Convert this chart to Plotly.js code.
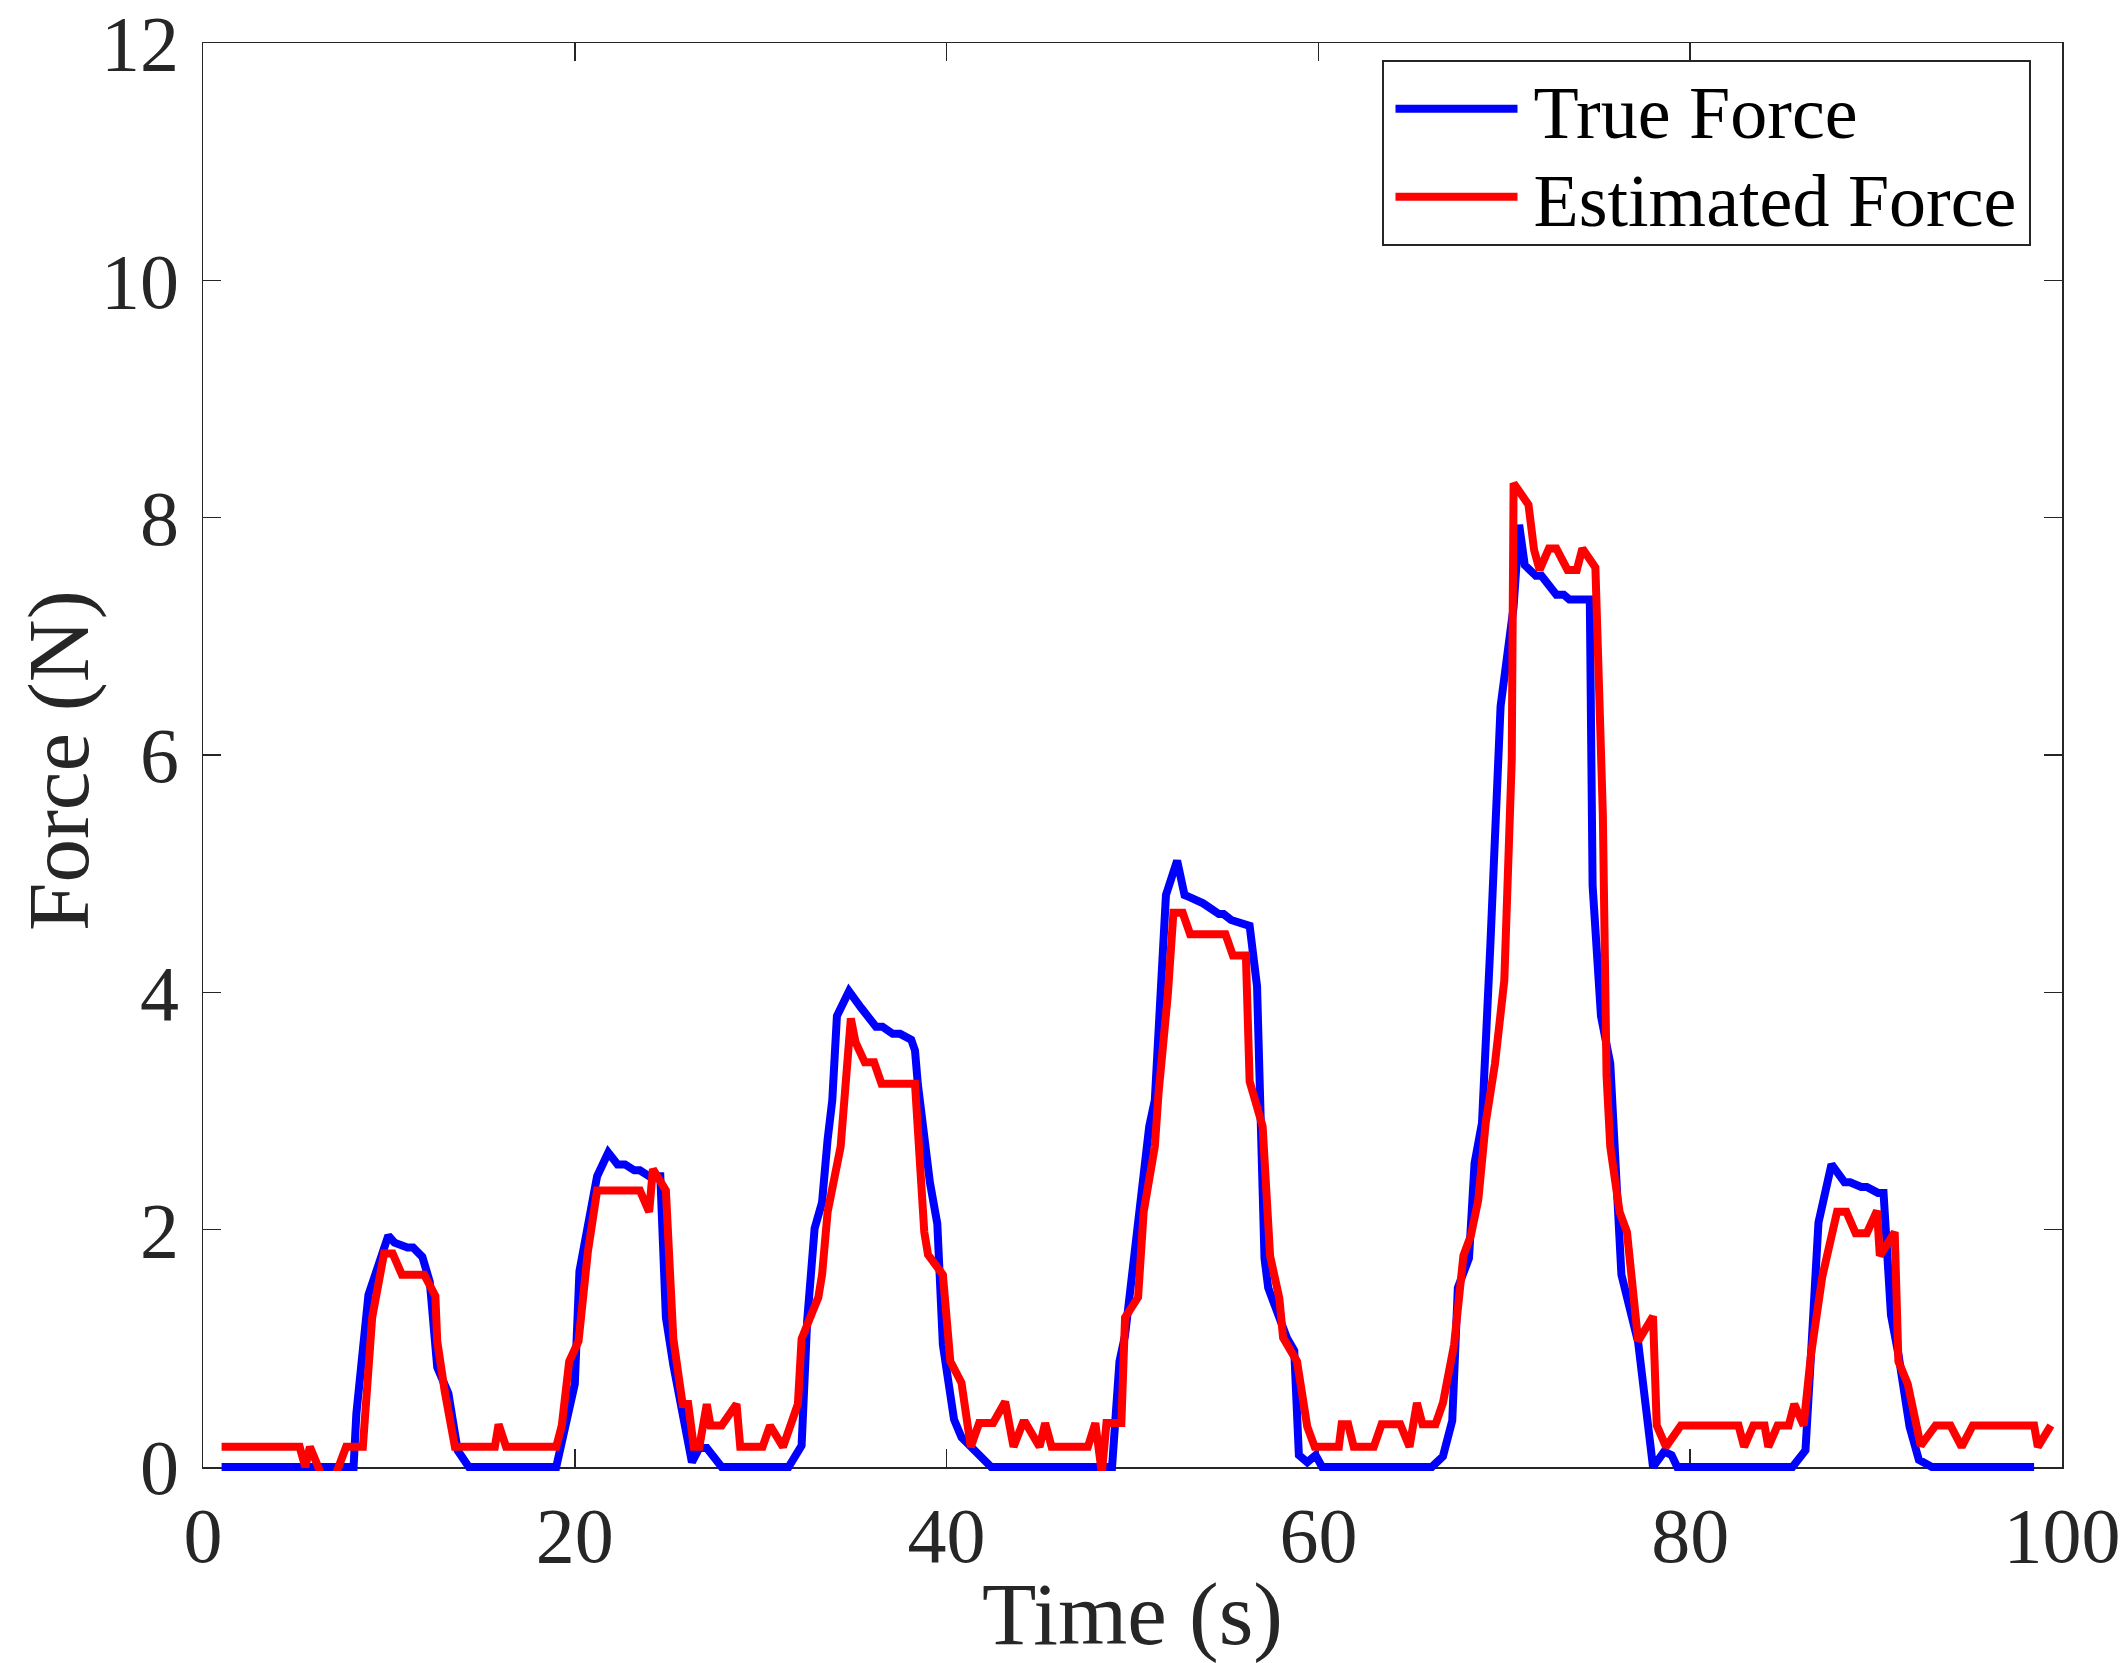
<!DOCTYPE html>
<html>
<head>
<meta charset="utf-8">
<script src="https://cdn.plot.ly/plotly-3.0.1.min.js"></script>
<style>
  html, body { margin: 0; padding: 0; background: #ffffff; }
  #chart { width: 2124px; height: 1663px; }
</style>
</head>
<body>
<div id="chart"></div>
<script>
// ---- data ----
const seriesNames = ["True Force", "Estimated Force"];

const trueTime = [
  1, 8.1, 8.25, 8.9, 9.97, 10.3, 11.0, 11.3, 11.8, 12.2,
  12.6, 13.2, 13.7, 14.3, 19.0, 20.0, 20.25, 20.55, 21.2, 21.8,
  22.3, 22.7, 23.2, 23.5, 24.0, 24.6, 24.9, 25.3, 25.9, 26.3,
  26.7, 27.1, 27.9, 31.5, 32.2, 32.5, 32.9, 33.3, 33.6, 33.85,
  34.1, 34.75, 35.4, 36.2, 36.55, 37.1, 37.5, 38.1, 38.3, 38.45,
  39.1, 39.5, 39.8, 40.4, 40.8, 41.5, 42.4, 48.9, 49.3, 49.6,
  50.2, 50.9, 51.2, 51.8, 52.4, 52.8, 53.1, 53.8, 54.65, 54.9,
  55.3, 55.6, 56.3, 56.7, 57.1, 57.3, 58.3, 58.7, 58.95, 59.4,
  59.85, 60.2, 66.1, 66.7, 67.2, 67.5, 68.1, 68.4, 68.8, 69.25,
  69.8, 70.5, 70.8, 71.1, 71.7, 72.0, 72.8, 73.2, 73.5, 74.6,
  74.75, 75.2, 75.7, 76.3, 77.2, 78.0, 78.6, 79.0, 79.3, 85.5,
  86.2, 86.5, 86.9, 87.6, 88.3, 88.6, 89.2, 89.5, 90.1, 90.4,
  90.8, 91.2, 91.8, 92.3, 92.5, 93.0, 98.5
];
const trueForce = [
  0, 0, 0.45, 1.45, 1.95, 1.89, 1.85, 1.85, 1.77, 1.56,
  0.84, 0.62, 0.14, 0, 0, 0.70, 1.65, 1.90, 2.45, 2.65,
  2.55, 2.55, 2.50, 2.50, 2.45, 2.45, 1.26, 0.86, 0.34, 0.04,
  0.16, 0.16, 0, 0, 0.18, 1.23, 2.01, 2.23, 2.76, 3.09,
  3.80, 4.01, 3.87, 3.71, 3.71, 3.65, 3.65, 3.60, 3.51, 3.23,
  2.40, 2.05, 1.03, 0.40, 0.25, 0.14, 0, 0, 0.89, 1.11,
  1.95, 2.87, 3.09, 4.82, 5.11, 4.82, 4.80, 4.75, 4.66, 4.66,
  4.61, 4.60, 4.56, 4.05, 1.76, 1.51, 1.09, 0.98, 0.10, 0.04,
  0.10, 0, 0, 0.09, 0.39, 1.51, 1.76, 2.56, 2.90, 4.40,
  6.41, 7.25, 7.94, 7.60, 7.51, 7.51, 7.35, 7.35, 7.31, 7.31,
  4.90, 3.80, 3.40, 1.62, 1.05, 0, 0.13, 0.10, 0, 0,
  0.14, 0.95, 2.06, 2.55, 2.40, 2.40, 2.36, 2.36, 2.31, 2.31,
  1.28, 0.95, 0.34, 0.06, 0.04, 0, 0
];

const estTime = [
  1.0, 5.2, 5.5, 5.75, 6.2, 6.4, 7.1, 7.7, 8.6, 9.1,
  9.74, 10.2, 10.7, 11.9, 12.5, 12.6, 13.0, 13.55, 15.7, 15.9,
  16.3, 19.0, 19.3, 19.7, 20.2, 20.7, 21.2, 23.5, 24.0, 24.2,
  24.9, 25.3, 25.8, 26.1, 26.4, 26.7, 27.1, 27.3, 27.9, 28.7,
  28.9, 30.1, 30.5, 31.2, 32.0, 32.2, 33.1, 33.3, 33.6, 34.3,
  34.85, 35.1, 35.6, 36.1, 36.5, 38.3, 38.8, 39.0, 39.8, 40.2,
  40.8, 41.3, 41.75, 42.5, 43.15, 43.6, 44.1, 44.25, 45.0, 45.3,
  45.65, 47.6, 48.0, 48.35, 48.6, 49.4, 49.6, 50.3, 50.6, 51.2,
  51.4, 51.9, 52.2, 52.7, 53.1, 55.0, 55.4, 56.1, 56.3, 57.0,
  57.4, 57.9, 58.1, 58.85, 59.4, 59.8, 61.1, 61.25, 61.6, 61.9,
  62.98, 63.4, 64.4, 64.9, 65.3, 65.6, 66.3, 66.7, 67.3, 67.8,
  68.2, 68.6, 69.0, 69.5, 70.0, 70.4, 70.5, 71.3, 71.6, 71.9,
  72.4, 72.8, 73.4, 73.9, 74.2, 74.9, 75.0, 75.3, 75.5, 75.7,
  76.2, 76.6, 77.2, 78.0, 78.2, 78.7, 79.5, 82.6, 82.9, 83.4,
  84.0, 84.2, 84.7, 85.3, 85.6, 86.1, 86.5, 87.1, 87.9, 88.4,
  88.9, 89.5, 90.05, 90.2, 91.0, 91.2, 91.7, 92.4, 93.2, 94.0,
  94.6, 95.2, 98.5, 98.7, 99.4
];
const estForce = [
  0.17, 0.17, 0.0, 0.17, 0.0, -0.08, -0.08, 0.17, 0.17, 1.26,
  1.80, 1.80, 1.62, 1.62, 1.44, 1.06, 0.64, 0.17, 0.17, 0.36,
  0.17, 0.17, 0.35, 0.89, 1.06, 1.81, 2.33, 2.33, 2.15, 2.51,
  2.33, 1.08, 0.53, 0.53, 0.17, 0.17, 0.53, 0.35, 0.35, 0.53,
  0.17, 0.17, 0.35, 0.17, 0.53, 1.08, 1.43, 1.62, 2.15, 2.70,
  3.78, 3.58, 3.41, 3.41, 3.23, 3.23, 1.98, 1.79, 1.62, 0.89,
  0.71, 0.17, 0.37, 0.37, 0.55, 0.17, 0.37, 0.37, 0.17, 0.37,
  0.17, 0.17, 0.37, -0.05, 0.37, 0.37, 1.26, 1.43, 2.15, 2.70,
  3.15, 3.98, 4.67, 4.67, 4.49, 4.49, 4.31, 4.31, 3.25, 2.87,
  1.78, 1.42, 1.09, 0.89, 0.34, 0.17, 0.17, 0.36, 0.36, 0.17,
  0.17, 0.36, 0.36, 0.17, 0.54, 0.36, 0.36, 0.54, 1.03, 1.78,
  1.95, 2.25, 2.90, 3.40, 4.10, 5.96, 8.29, 8.11, 7.73, 7.56,
  7.74, 7.74, 7.56, 7.56, 7.74, 7.58, 7.07, 5.50, 3.30, 2.70,
  2.15, 1.98, 1.06, 1.27, 0.35, 0.17, 0.35, 0.35, 0.17, 0.35,
  0.35, 0.17, 0.35, 0.35, 0.53, 0.35, 0.95, 1.60, 2.15, 2.15,
  1.97, 1.97, 2.16, 1.78, 1.98, 0.89, 0.70, 0.18, 0.35, 0.35,
  0.17, 0.35, 0.35, 0.17, 0.35
];

const xTickVals = [0, 20, 40, 60, 80, 100];
const yTickVals = [0, 2, 4, 6, 8, 10, 12];
const xTitle = "Time (s)";
const yTitle = "Force (N)";

// ---- styling ----
const FONT = "'Liberation Serif', 'Times New Roman', Times, serif";
const AXC = "#262626";

const traces = [
  { x: trueTime, y: trueForce, name: seriesNames[0], type: "scatter", mode: "lines",
    line: { color: "#0000ff", width: 8 } },
  { x: estTime, y: estForce, name: seriesNames[1], type: "scatter", mode: "lines",
    line: { color: "#ff0000", width: 8 } }
];

const axisCommon = {
  showgrid: false, zeroline: false,
  showline: true, linecolor: AXC, linewidth: 1.5, mirror: "ticks",
  ticks: "inside", ticklen: 18, tickwidth: 1.5, tickcolor: AXC,
  tickfont: { family: FONT, size: 78, color: AXC },
  ticklabeloverflow: "allow",
  layer: "below traces",
  automargin: false
};

const M = { l: 203, r: 62, t: 43, b: 196 };
const plotW = 2124 - M.l - M.r, plotH = 1663 - M.t - M.b;

const layout = {
  width: 2124, height: 1663,
  paper_bgcolor: "#ffffff", plot_bgcolor: "#ffffff",
  margin: M,
  showlegend: true,
  legend: {
    x: (1382 - M.l) / plotW, y: (1663 - M.b - 60) / plotH, xanchor: "left", yanchor: "top",
    bgcolor: "#ffffff", bordercolor: AXC, borderwidth: 1.5,
    font: { family: FONT, size: 74, color: "#000000" },
    itemwidth: 140, tracegroupgap: 0
  },
  xaxis: Object.assign({}, axisCommon, {
    range: [0, 100], tickvals: xTickVals, ticktext: xTickVals.map(String),
    title: { text: xTitle, font: { family: FONT, size: 89, color: AXC }, standoff: 10 }
  }),
  yaxis: Object.assign({}, axisCommon, {
    range: [0, 12], tickvals: yTickVals, ticktext: yTickVals.map(String),
    ticklabelstandoff: 7
  }),
  annotations: [{
    text: yTitle, textangle: -90, showarrow: false,
    xref: "paper", yref: "paper",
    x: (58 - M.l) / plotW, y: (1663 - M.b - 761) / plotH,
    xanchor: "center", yanchor: "middle",
    font: { family: FONT, size: 87, color: AXC }
  }]
};

Plotly.newPlot("chart", traces, layout, { staticPlot: true, displayModeBar: false }).then(function (gd) {
  // let the line stroke overhang the axis box slightly, as in the reference
  gd.querySelectorAll("clipPath").forEach(function (cp) {
    if (/xyplot$/.test(cp.id)) {
      const r = cp.querySelector("rect");
      if (r) {
        const h = parseFloat(r.getAttribute("height"));
        r.setAttribute("height", h + 4);
      }
    }
  });
  // legend fine-tuning to match the reference box proportions
  const leg = gd.querySelector(".legend");
  if (!leg) return;
  leg.querySelectorAll(".legendlines path").forEach(function (p) {
    p.setAttribute("d", "M12,0h122");
  });
  const bg = leg.querySelector("rect.bg");
  const bgTop = bg ? parseFloat(bg.getAttribute("y") || "0") : 0;
  const items = leg.querySelectorAll("g.traces");
  items.forEach(function (g, i) {
    const tr = g.getAttribute("transform") || "";
    const m = tr.match(/translate\(\s*([-\d.e]+)[ ,]+([-\d.e]+)\s*\)/);
    const x = m ? parseFloat(m[1]) : 0;
    g.setAttribute("transform", "translate(" + x + "," + (bgTop + 48 + 88 * i) + ")");
  });
  if (bg) {
    bg.setAttribute("height", 184);
    bg.setAttribute("width", 647);
  }
});
</script>
</body>
</html>
